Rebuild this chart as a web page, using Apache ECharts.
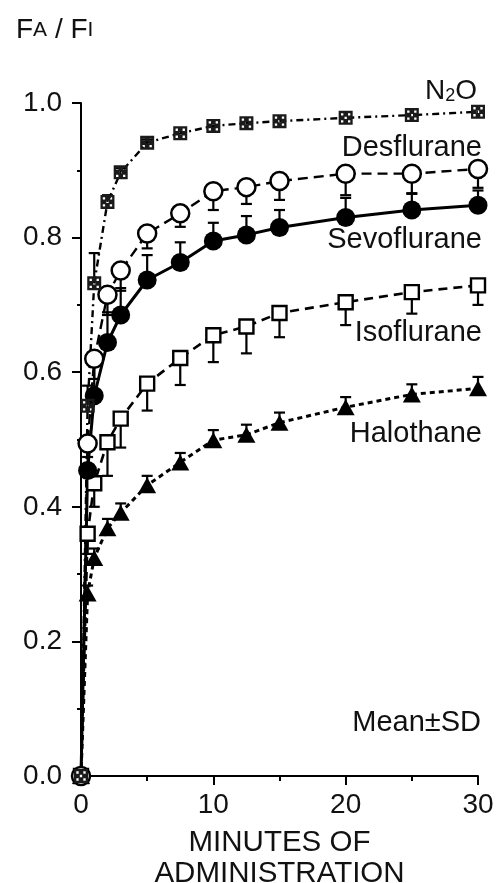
<!DOCTYPE html>
<html>
<head>
<meta charset="utf-8">
<script src="https://cdn.jsdelivr.net/npm/echarts@6/dist/echarts.min.js"></script>
<style>
html,body{margin:0;padding:0;background:#fff;}
#chart{width:496px;height:883px;}
</style>
</head>
<body>
<div id="chart"></div>
<script>
// ---- data ----
const times = [0, 0.5, 1, 2, 3, 5, 7.5, 10, 12.5, 15, 20, 25, 30];
const n2o   = [0, 0.55, 0.732, 0.853, 0.897, 0.941, 0.955, 0.966, 0.970, 0.973, 0.978, 0.982, 0.987];
const des   = [0, 0.494, 0.620, 0.715, 0.751, 0.806, 0.836, 0.869, 0.875, 0.884, 0.895, 0.895, 0.902];
const sevo  = [0, 0.454, 0.565, 0.644, 0.685, 0.737, 0.763, 0.795, 0.804, 0.815, 0.830, 0.841, 0.848];
const iso   = [0, 0.360, 0.435, 0.496, 0.531, 0.583, 0.621, 0.655, 0.668, 0.688, 0.704, 0.719, 0.729];
const halo  = [0, 0.271, 0.324, 0.368, 0.391, 0.432, 0.466, 0.499, 0.507, 0.525, 0.548, 0.567, 0.576];
// standard deviations (direction in which the bar is drawn: +1 up, -1 down)
const n2oSD  = [0, 0.03, 0.045, 0.01, 0.006, 0.005, 0, 0, 0, 0, 0, 0, 0];
const desSD  = [0, 0.02, 0.03, 0.03, 0.03, 0.022, 0.02, 0.028, 0.025, 0.028, 0.032, 0.03, 0.028];
const sevoSD = [0, 0.04, 0.05, 0.045, 0.04, 0.037, 0.03, 0.027, 0.028, 0.026, 0.029, 0.025, 0.022];
const isoSD  = [0, 0.03, 0.035, 0.05, 0.043, 0.04, 0.04, 0.04, 0.04, 0.036, 0.034, 0.032, 0.029];
const haloSD = [0, 0.012, 0.014, 0.014, 0.014, 0.014, 0.014, 0.015, 0.015, 0.015, 0.015, 0.015, 0.017];
const xTicks = ['0', '10', '20', '30'];
const yTicks = ['0.0', '0.2', '0.4', '0.6', '0.8', '1.0'];
const seriesNames = ['N2O', 'Desflurane', 'Sevoflurane', 'Isoflurane', 'Halothane'];
const xTitle = 'MINUTES OF\nADMINISTRATION';

const FONT = '"Liberation Sans", Arial, Helvetica, sans-serif';
const chart = echarts.init(document.getElementById('chart'), null, {renderer: 'canvas'});

function pairs(vals) { return times.map((t, i) => [t, vals[i]]); }
function errData(vals, sd, dir) {
  return times.map((t, i) => [t, vals[i], vals[i] + dir * sd[i]]).filter((d, i) => sd[i] > 0);
}
function errSeries(vals, sd, dir) {
  return {
    type: 'custom', silent: true, z: 1,
    data: errData(vals, sd, dir),
    renderItem: function (params, api) {
      const p1 = api.coord([api.value(0), api.value(1)]);
      const p2 = api.coord([api.value(0), api.value(2)]);
      const st = {stroke: '#000', lineWidth: 2.2};
      return {type: 'group', children: [
        {type: 'line', shape: {x1: p1[0], y1: p1[1], x2: p2[0], y2: p2[1]}, style: st},
        {type: 'line', shape: {x1: p2[0] - 5.5, y1: p2[1], x2: p2[0] + 5.5, y2: p2[1]}, style: st}
      ]};
    }
  };
}
function lineSeries(name, vals, opt) {
  return Object.assign({
    name: name, type: 'line', data: pairs(vals), z: 3,
    animation: false, silent: true,
    emphasis: {disabled: true}
  }, opt);
}

const dotSquare = 'path://M0,0H12V12H0Z M2,2V4H4V2Z M8,2V4H10V2Z M5,5V7H7V5Z M2,8V10H4V8Z M8,8V10H10V8Z';

const option = {
  animation: false,
  backgroundColor: '#fff',
  grid: {left: 81, right: 18, top: 103, bottom: 107, containLabel: false, outerBoundsMode: 'none'},
  xAxis: {
    type: 'value', min: 0, max: 30, interval: 10,
    axisLine: {show: true, lineStyle: {color: '#000', width: 2}},
    axisTick: {show: true, length: 9, inside: false, lineStyle: {color: '#000', width: 2}},
    minorTick: {show: true, splitNumber: 2, length: 5, lineStyle: {color: '#000', width: 2}},
    splitLine: {show: false},
    axisLabel: {
      margin: 15, color: '#111', fontFamily: FONT, fontSize: 28,
      formatter: v => xTicks[Math.round(v / 10)]
    },
    name: xTitle, nameLocation: 'middle', nameGap: 51,
    nameTextStyle: {color: '#111', fontFamily: FONT, fontSize: 29.5, lineHeight: 31, align: 'center'}
  },
  yAxis: {
    type: 'value', min: 0, max: 1, interval: 0.2,
    axisLine: {show: true, lineStyle: {color: '#000', width: 2}},
    axisTick: {show: true, length: 9, inside: false, lineStyle: {color: '#000', width: 2}},
    minorTick: {show: true, splitNumber: 2, length: 4, lineStyle: {color: '#000', width: 2}},
    splitLine: {show: false},
    axisLabel: {
      margin: 19, color: '#111', fontFamily: FONT, fontSize: 28,
      formatter: v => yTicks[Math.round(v / 0.2)]
    }
  },
  series: [
    errSeries(halo, haloSD, 1),
    errSeries(iso, isoSD, -1),
    errSeries(sevo, sevoSD, 1),
    errSeries(des, desSD, -1),
    errSeries(n2o, n2oSD, 1),
    lineSeries(seriesNames[4], halo, {
      symbol: 'triangle', symbolSize: [18, 16],
      itemStyle: {color: '#000'},
      lineStyle: {color: '#000', width: 3, type: [5, 4]}
    }),
    lineSeries(seriesNames[3], iso, {
      symbol: 'rect', symbolSize: 14,
      itemStyle: {color: '#fff', borderColor: '#000', borderWidth: 2.4},
      lineStyle: {color: '#000', width: 2.6, type: [9, 6]}
    }),
    lineSeries(seriesNames[2], sevo, {
      symbol: 'circle', symbolSize: 19,
      itemStyle: {color: '#000'},
      lineStyle: {color: '#000', width: 3, type: 'solid'}
    }),
    lineSeries(seriesNames[1], des, {
      symbol: 'circle', symbolSize: 18,
      itemStyle: {color: '#fff', borderColor: '#000', borderWidth: 2.5},
      lineStyle: {color: '#000', width: 2.4, type: [10, 6]}
    }),
    lineSeries(seriesNames[0], n2o, {
      symbol: dotSquare, symbolSize: 14,
      itemStyle: {color: '#1a1a1a'},
      lineStyle: {color: '#000', width: 2.4, type: [7, 4, 2, 4]}
    })
  ],
  graphic: [
    {type: 'text', left: 16, top: 16, style: {
      text: '{b|F}{s|A}{b| / F}{s|I}', fill: '#111',
      rich: {b: {fontFamily: FONT, fontSize: 28, fill: '#111'}, s: {fontFamily: FONT, fontSize: 21, fill: '#111'}}
    }},
    {type: 'text', right: 19, top: 77, style: {
      text: 'N{sub|2}O', fill: '#111', fontFamily: FONT, fontSize: 28,
      rich: {sub: {fontFamily: FONT, fontSize: 18, verticalAlign: 'bottom', padding: [11, 0, 0, 0]}}
    }},
    {type: 'text', right: 14, top: 133, style: {text: 'Desflurane', fill: '#111', fontFamily: FONT, fontSize: 29}},
    {type: 'text', right: 14, top: 225, style: {text: 'Sevoflurane', fill: '#111', fontFamily: FONT, fontSize: 29}},
    {type: 'text', right: 14, top: 318, style: {text: 'Isoflurane', fill: '#111', fontFamily: FONT, fontSize: 29}},
    {type: 'text', right: 14, top: 419, style: {text: 'Halothane', fill: '#111', fontFamily: FONT, fontSize: 29}},
    {type: 'text', right: 15, top: 708, style: {text: 'Mean\u00B1SD', fill: '#111', fontFamily: FONT, fontSize: 29}}
  ]
};
chart.setOption(option);
</script>
</body>
</html>
